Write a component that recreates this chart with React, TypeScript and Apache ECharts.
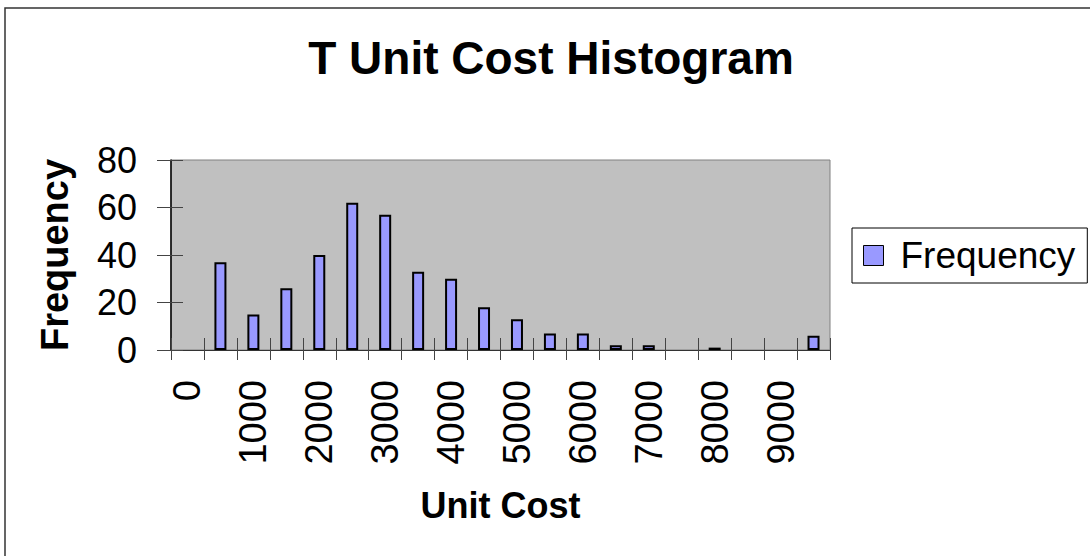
import React, { useEffect, useRef } from "react";
import * as echarts from "echarts";

const categories = ["0","500","1000","1500","2000","2500","3000","3500","4000","4500","5000","5500","6000","6500","7000","7500","8000","8500","9000","9500"];
const frequency = [0,37,15,26,40,62,57,33,30,18,13,7,7,2,2,0,1,0,0,6];
const yTicks = { min: 0, max: 80, interval: 20 };
const titleText = "T Unit Cost Histogram";
const xName = "Unit Cost";
const yName = "Frequency";
const seriesName = "Frequency";

const FONT = 'Arial, "Liberation Sans", sans-serif';

export default function App() {
  const ref = useRef<HTMLDivElement>(null);
  useEffect(() => {
    if (!ref.current) return;
    const chart = echarts.init(ref.current, null, { renderer: "svg" });
    const gridL = 171, gridT = 160, gridW = 659, gridH = 190;
    chart.setOption({
      animation: false,
      backgroundColor: "#ffffff",
      textStyle: { fontFamily: FONT },
      title: {
        text: titleText,
        left: 551,
        top: 35,
        textAlign: "center",
        padding: 0,
        textStyle: { fontSize: 46, fontWeight: "bold", color: "#000", fontFamily: FONT },
      },
      legend: {
        show: true,
        left: 852,
        top: 228,
        orient: "vertical",
        padding: [9, 12, 9, 11],
        borderColor: "#000",
        borderWidth: 1,
        backgroundColor: "#fff",
        itemWidth: 20,
        itemHeight: 20,
        icon: "rect",
        itemStyle: { borderColor: "#000", borderWidth: 1 },
        textStyle: { fontSize: 37, color: "#000", fontFamily: FONT, padding: [0, 0, 0, 12] },
        data: [seriesName],
      },
      graphic: [
        {
          type: "rect",
          shape: { x: 5, y: 8, width: 1200, height: 700 },
          style: { fill: "none", stroke: "#333", lineWidth: 1.5 },
          silent: true,
          z: 100,
        },
      ],
      grid: {
        left: gridL,
        top: gridT,
        width: gridW,
        height: gridH,
        show: true,
        backgroundColor: "#C0C0C0",
        borderColor: "#808080",
        borderWidth: 1,
        containLabel: false,
      },
      xAxis: [
        {
          type: "category",
          data: categories,
          position: "bottom",
          boundaryGap: true,
          name: xName,
          nameLocation: "middle",
          nameGap: 137,
          nameTextStyle: { fontSize: 36, fontWeight: "bold", color: "#000", fontFamily: FONT },
          axisLine: { show: true, lineStyle: { color: "#333", width: 1 } },
          axisTick: { show: true, inside: false, length: 10, interval: 0, lineStyle: { color: "#444" } },
          axisLabel: { interval: 1, rotate: 90, margin: 30, fontSize: 38, color: "#000", fontFamily: FONT },
          splitLine: { show: false },
        },
        {
          type: "category",
          data: categories,
          position: "bottom",
          boundaryGap: true,
          axisLine: { show: false },
          axisTick: { show: true, inside: true, length: 12, interval: 0, lineStyle: { color: "#444" } },
          axisLabel: { show: false },
          splitLine: { show: false },
        },
      ],
      yAxis: [
        {
          type: "value",
          position: "left",
          min: yTicks.min,
          max: yTicks.max,
          interval: yTicks.interval,
          name: yName,
          nameLocation: "middle",
          nameGap: 97,
          nameRotate: 90,
          nameTextStyle: { fontSize: 38, fontWeight: "bold", color: "#000", fontFamily: FONT },
          axisLine: { show: true, lineStyle: { color: "#000", width: 1.5 } },
          axisTick: { show: true, inside: false, length: 14, lineStyle: { color: "#444" } },
          axisLabel: { margin: 34, fontSize: 36, color: "#000", fontFamily: FONT },
          splitLine: { show: false },
        },
        {
          type: "value",
          position: "left",
          min: yTicks.min,
          max: yTicks.max,
          interval: yTicks.interval,
          axisLine: { show: false },
          axisTick: { show: true, inside: true, length: 12, lineStyle: { color: "#444" } },
          axisLabel: { show: false },
          splitLine: { show: false },
        },
      ],
      series: [
        {
          name: seriesName,
          type: "bar",
          xAxisIndex: 0,
          yAxisIndex: 0,
          barWidth: 12,
          data: frequency.map((v) => (v === 0 ? "-" : v)),
          itemStyle: { color: "#9999FF", borderColor: "#000", borderWidth: 2 },
        },
      ],
    });
    return () => chart.dispose();
  }, []);
  return (
    <div
      ref={ref}
      style={{ position: "absolute", left: 0, top: 0, width: 1090, height: 556 }}
    />
  );
}
